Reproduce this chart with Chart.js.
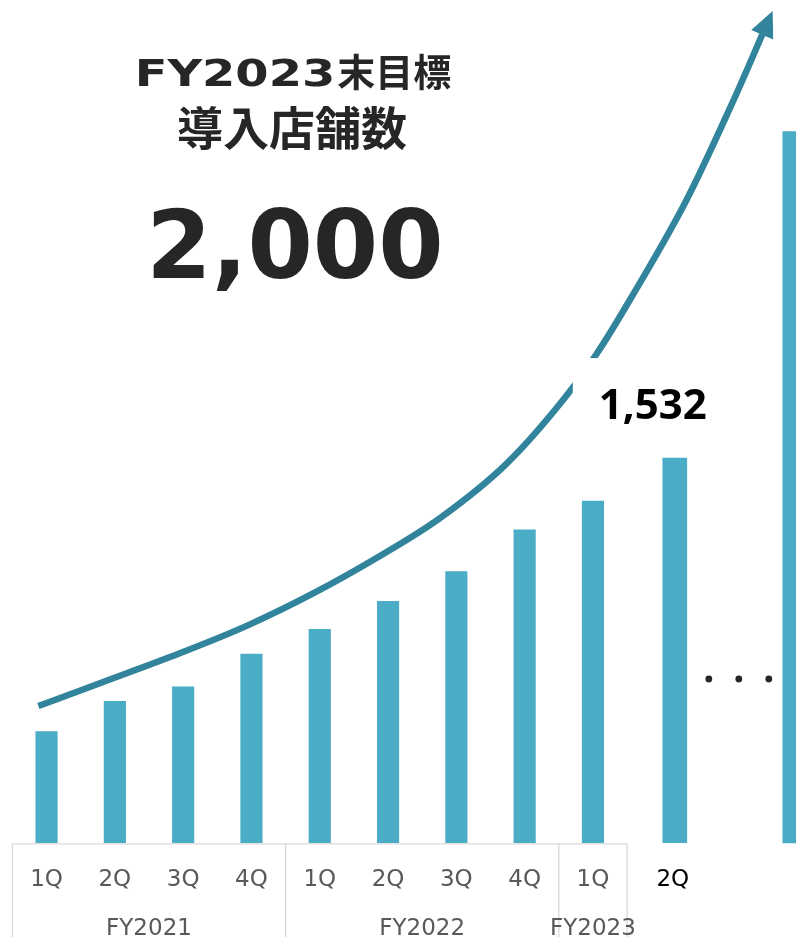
<!DOCTYPE html>
<html lang="ja">
<head>
<meta charset="utf-8">
<title>導入店舗数の推移</title>
<script src="https://cdn.jsdelivr.net/npm/chart.js@4.4.1/dist/chart.umd.min.js"></script>
<style>
  html, body { margin: 0; padding: 0; background: #ffffff; }
  #wrap { position: relative; width: 796px; height: 937px; overflow: hidden; }
  canvas { display: block; }
</style>
</head>
<body>
<div id="wrap"><canvas id="chart" width="832" height="937"></canvas></div>
<script>
// 会計年度と四半期
const fiscalYears = ['FY2021', 'FY2022', 'FY2023'];
const quarterLabels = ['1Q', '2Q', '3Q', '4Q', '1Q', '2Q', '3Q', '4Q', '1Q', '2Q', '3Q', '4Q'];
const quarterYears = ['FY2021', 'FY2021', 'FY2021', 'FY2021',
                      'FY2022', 'FY2022', 'FY2022', 'FY2022',
                      'FY2023', 'FY2023', 'FY2023', 'FY2023'];

// 導入店舗数（実績）
const actualStores = [443, 564, 622, 752, 850, 962, 1080, 1246, 1361];

// 直近四半期（FY2023 2Q）
const outlookQuarter = [9];
const outlookStores = [1532];

// FY2023末目標
const targetQuarter = [11];
const targetStores = [2000];

// 成長トレンドの矢印（四半期位置, 店舗数）
const trendQuarter = [-0.12, 0.78, 1.95, 2.93, 3.91, 4.88, 5.76, 6.74, 7.62, 8.06, 8.54, 9.37, 10.06, 10.49];
const trendStores  = [545, 636, 755, 864, 994, 1142, 1293, 1511, 1783, 1949, 2161, 2559, 2957, 3224];

const BAR = '#4bacc6';
const TREND = '#31849b';
const TEXT = '#262626';
const AXIS_TEXT = '#595959';
const GRID = '#d9d9d9';

const periodLabels = quarterLabels.map((q, i) => quarterYears[i] + ' ' + q);
const fmt = v => v.toLocaleString('en-US');

// 英数字は横に広い字形で描く
function drawWideTitle(ctx, latin, cjk, cx, cy, stretch) {
  const lw = ctx.measureText(latin).width * stretch;
  const cw = ctx.measureText(cjk).width;
  const x0 = cx - (lw + cw) / 2;
  ctx.save();
  ctx.textAlign = 'left';
  ctx.translate(x0, cy);
  ctx.scale(stretch, 1);
  ctx.fillText(latin, 0, 0);
  ctx.restore();
  ctx.save();
  ctx.textAlign = 'left';
  ctx.fillText(cjk, x0 + lw + 2, cy);
  ctx.restore();
}

// 軸ラベル・注記・見出しの描画
const notes = {
  id: 'notes',
  afterDatasetsDraw(chart) {
    const ctx = chart.ctx;
    const area = chart.chartArea;
    const xs = chart.scales.x;
    const H = chart.height;
    const n = actualStores.length;
    const edge = i => xs.getPixelForValue(i - 0.5);

    // 矢印の先端
    const pts = chart.getDatasetMeta(0).data;
    const p = pts[pts.length - 1];
    let dx = p.x - (p.cp1x ?? pts[pts.length - 2].x);
    let dy = p.y - (p.cp1y ?? pts[pts.length - 2].y);
    const len = Math.hypot(dx, dy) || 1;
    dx /= len; dy /= len;
    const nx = -dy, ny = dx;
    const bx = p.x - dx * 2, by = p.y - dy * 2;
    ctx.save();
    ctx.fillStyle = TREND;
    ctx.beginPath();
    ctx.moveTo(p.x + dx * 24, p.y + dy * 24);
    ctx.lineTo(bx + nx * 12, by + ny * 12);
    ctx.lineTo(bx - nx * 12, by - ny * 12);
    ctx.closePath();
    ctx.fill();
    ctx.restore();

    // 年度の区切り枠
    ctx.save();
    ctx.strokeStyle = GRID;
    ctx.lineWidth = 1.3;
    const top = area.bottom + 0.8;
    ctx.beginPath();
    ctx.moveTo(edge(0), top);
    ctx.lineTo(edge(n), top);
    const bounds = [0];
    for (let i = 1; i < n; i++) if (quarterYears[i] !== quarterYears[i - 1]) bounds.push(i);
    bounds.push(n);
    bounds.forEach(b => { ctx.moveTo(edge(b), top); ctx.lineTo(edge(b), H); });
    ctx.stroke();

    // 四半期ラベル
    ctx.font = '23px "DejaVu Sans", sans-serif';
    ctx.textAlign = 'center';
    ctx.textBaseline = 'alphabetic';
    ctx.fillStyle = AXIS_TEXT;
    for (let i = 0; i < n; i++) {
      ctx.fillText(quarterLabels[i], xs.getPixelForValue(i), area.bottom + 43);
    }
    // 年度ラベル
    fiscalYears.forEach(fy => {
      const idx = [];
      for (let i = 0; i < n; i++) if (quarterYears[i] === fy) idx.push(i);
      if (!idx.length) return;
      const cx = (xs.getPixelForValue(idx[0]) + xs.getPixelForValue(idx[idx.length - 1])) / 2;
      ctx.fillText(fy, cx, area.bottom + 92);
    });

    // 直近四半期のラベル
    const outBar = chart.getDatasetMeta(2).data[0];
    ctx.fillStyle = '#000000';
    ctx.fillText(quarterLabels[outlookQuarter[0]], outBar.x - 2, area.bottom + 43);

    // 省略記号
    const tgtBar = chart.getDatasetMeta(3).data[0];
    const mid = (outBar.x + tgtBar.x) / 2 + 4;
    ctx.fillStyle = TEXT;
    [-30, 0, 30].forEach(o => {
      ctx.beginPath();
      ctx.arc(mid + o, area.bottom - 164, 3.4, 0, Math.PI * 2);
      ctx.fill();
    });

    // 直近値ラベル（背景を白で抜く）
    ctx.fillStyle = '#ffffff';
    ctx.fillRect(outBar.x - 102, outBar.y - 100, 142, 80);
    ctx.fillStyle = '#000000';
    ctx.font = 'bold 42px "Noto Sans", "Open Sans", sans-serif';
    ctx.fillText(fmt(outlookStores[0]), outBar.x - 22, outBar.y - 39);

    // 見出し
    ctx.fillStyle = TEXT;
    ctx.textBaseline = 'middle';
    ctx.font = 'bold 38px "DejaVu Sans", "Noto Sans CJK JP", sans-serif';
    drawWideTitle(ctx, fiscalYears[2], '末目標', 292, 76, 1.26);
    ctx.font = 'bold 46px "Noto Sans CJK JP", sans-serif';
    ctx.fillText('導入店舗数', 292, 128);
    ctx.textBaseline = 'alphabetic';
    ctx.font = 'bold 94px "DejaVu Sans", sans-serif';
    ctx.fillText(fmt(targetStores[0]), 295, 278);
    ctx.restore();
  }
};

new Chart(document.getElementById('chart'), {
  data: {
    labels: periodLabels,
    datasets: [
      {
        type: 'line',
        label: 'トレンド',
        data: trendQuarter.map((q, i) => ({ x: q, y: trendStores[i] })),
        xAxisID: 'xt',
        yAxisID: 'y',
        borderColor: TREND,
        borderWidth: 6.5,
        borderCapStyle: 'butt',
        pointRadius: 0,
        cubicInterpolationMode: 'monotone',
        fill: false
      },
      {
        type: 'bar',
        label: '導入店舗数',
        data: actualStores,
        xAxisID: 'x',
        yAxisID: 'y',
        backgroundColor: BAR,
        barThickness: 21.5,
        grouped: false
      },
      {
        type: 'bar',
        label: 'FY2023 2Q',
        data: outlookQuarter.map((q, i) => ({ x: q, y: outlookStores[i] })),
        xAxisID: 'x2',
        yAxisID: 'y',
        backgroundColor: BAR,
        barThickness: 24,
        grouped: false
      },
      {
        type: 'bar',
        label: 'FY2023末目標',
        data: targetQuarter.map((q, i) => ({ x: q, y: targetStores[i] })),
        xAxisID: 'x2',
        yAxisID: 'y2',
        backgroundColor: BAR,
        barThickness: 24,
        grouped: false,
        clip: false
      }
    ]
  },
  options: {
    responsive: false,
    animation: false,
    events: [],
    layout: { padding: { left: 12.4, right: 0, top: 0, bottom: 94 } },
    plugins: {
      legend: { display: false },
      tooltip: { enabled: false }
    },
    scales: {
      x:  { type: 'category', offset: true, display: false },
      xt: { type: 'linear', offset: false, min: -0.5, max: quarterLabels.length - 0.5, display: false },
      x2: { type: 'linear', offset: false, min: -2.04, max: 11.62, display: false },
      y:  { type: 'linear', min: 0, max: 3355, display: false },
      y2: { type: 'linear', min: 0, max: 2370, display: false }
    }
  },
  plugins: [notes]
});
</script>
</body>
</html>
